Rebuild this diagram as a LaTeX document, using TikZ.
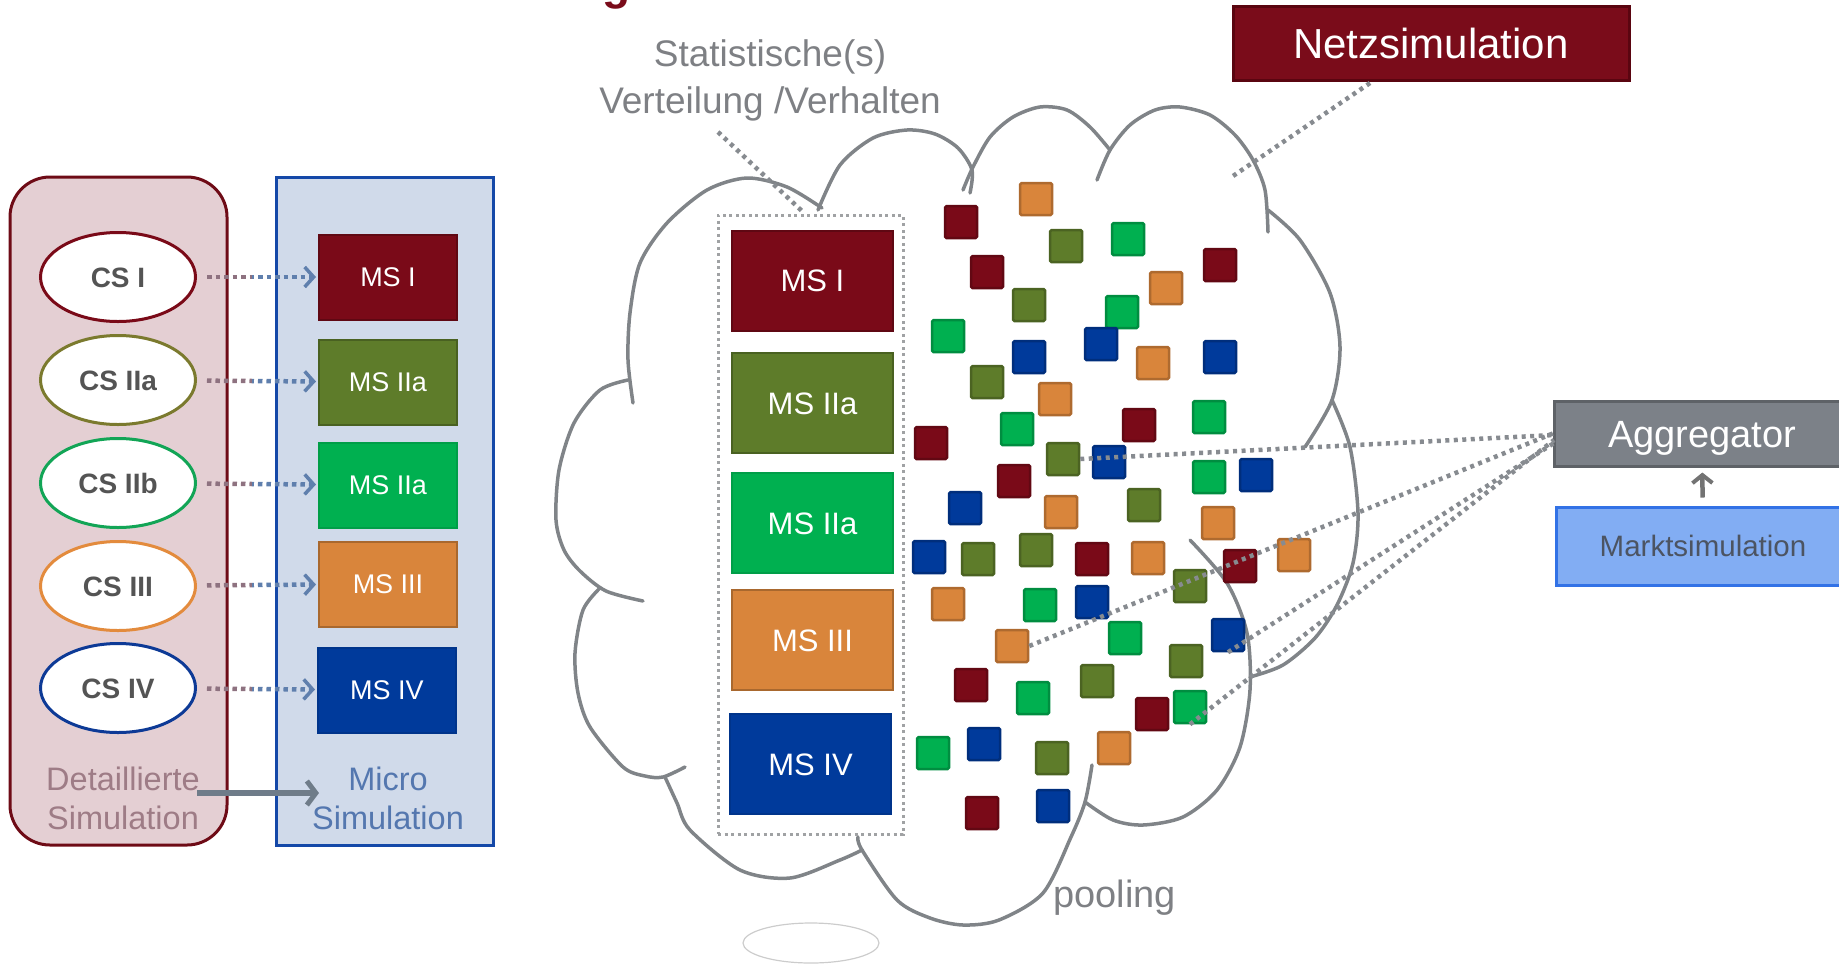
\documentclass[tikz,border=0pt]{standalone}
\usepackage{fontspec}
\setmainfont{Liberation Sans}
\usetikzlibrary{shapes.geometric,arrows.meta}
\newcommand\myfs[1]{\fontsize{#1pt}{#1pt}\selectfont}
\definecolor{DR}{HTML}{7A0A18}
\definecolor{OR}{HTML}{D9853B}
\definecolor{OL}{HTML}{5E7C2A}
\definecolor{GR}{HTML}{00B050}
\definecolor{BL}{HTML}{003A9B}
\definecolor{redPanelF}{HTML}{E4CFD3}
\definecolor{redPanelD}{HTML}{6E0B16}
\definecolor{bluePanelF}{HTML}{D0DAEA}
\definecolor{bluePanelD}{HTML}{1448A8}
\definecolor{detText}{HTML}{9E7C86}
\definecolor{microText}{HTML}{5477AF}
\definecolor{csGray}{HTML}{545454}
\definecolor{csIIa}{HTML}{7B7A2E}
\definecolor{csIIb}{HTML}{12A556}
\definecolor{csIII}{HTML}{E38B3D}
\definecolor{csIV}{HTML}{0D3A96}
\definecolor{linkPink}{HTML}{8E7280}
\definecolor{linkBlue}{HTML}{5F7FAD}
\definecolor{arrGray}{HTML}{6F7C89}
\definecolor{cloudGray}{HTML}{808488}
\definecolor{dotGray}{HTML}{878B90}
\definecolor{boxDot}{HTML}{A0A2A4}
\definecolor{statGray}{HTML}{7E8084}
\definecolor{netFill}{HTML}{7A0C1A}
\definecolor{netDraw}{HTML}{5A0510}
\definecolor{aggFill}{HTML}{7C8188}
\definecolor{aggDraw}{HTML}{5E6267}
\definecolor{mktFill}{HTML}{82ADF3}
\definecolor{mktDraw}{HTML}{3272E6}
\definecolor{mktText}{HTML}{4C5462}
\begin{document}
\begin{tikzpicture}[x=1pt,y=-1pt,
  panelbox/.style={rectangle, line width=3pt, inner sep=0pt},
  csell/.style={ellipse, draw, fill=white, line width=3pt, minimum width=155pt, minimum height=89pt, inner sep=0pt, text=csGray, font=\bfseries\myfs{28}, text height=20pt, text depth=0pt},
  msbox/.style={rectangle, draw, line width=2pt, minimum width=138pt, minimum height=85pt, inner sep=0pt, text=white, font=\myfs{27}, text height=19pt, text depth=0pt},
  cmbox/.style={msbox, minimum width=161pt, minimum height=100pt, font=\myfs{31}, text height=22pt},
  sq/.style={rectangle, draw, line width=2.5pt, minimum size=32pt, inner sep=0pt, rounded corners=1.5pt},
  cslink/.style={line width=4.5pt, dash pattern=on 4.5pt off 4pt, -{Straight Barb[length=9pt,width=20pt,line width=3.5pt]}, shorten <=10pt, shorten >=2pt},
  dotline/.style={draw=dotGray, line width=4.5pt, dash pattern=on 4pt off 4.5pt},
  cloudline/.style={draw=cloudGray, line width=3.5pt, line cap=round},
  lbl/.style={anchor=base, inner sep=0pt}
]
\useasboundingbox (0,0) rectangle (1839,970);

% title fragment
\node[lbl, text=netFill, font=\bfseries\myfs{46}] (gfrag) at (617,-1) {g};

% ---------- left panels ----------
\node[panelbox, draw=redPanelD, fill=redPanelF, rounded corners=40pt, minimum width=217pt, minimum height=668pt] (pnlL) at (118.5,511) {};
\node[panelbox, draw=bluePanelD, fill=bluePanelF, minimum width=217pt, minimum height=668pt] (pnlR) at (384.5,511) {};

\node[csell, draw=DR] (cs1) at (118,277) {CS I};
\node[csell, draw=csIIa] (cs2) at (118,380) {CS IIa};
\node[csell, draw=csIIb] (cs3) at (118,483) {CS IIb};
\node[csell, draw=csIII] (cs4) at (118,586) {CS III};
\node[csell, draw=csIV] (cs5) at (118,688) {CS IV};

\node[msbox, fill=DR, draw=DR!78!black] (ms1) at (388,277) {MS I};
\node[msbox, fill=OL, draw=OL!78!black] (ms2) at (388,382) {MS IIa};
\node[msbox, fill=GR, draw=GR!90!black] (ms3) at (388,485) {MS IIa};
\node[msbox, fill=OR, draw=OR!78!black] (ms4) at (388,584) {MS III};
\node[msbox, fill=BL, draw=BL!90!black] (ms5) at (387,690) {MS IV};

\begin{scope}
  \clip (0,0) rectangle (252,970);
  \foreach \i in {1,...,5} \draw[cslink, draw=linkPink] (cs\i) -- (ms\i);
\end{scope}
\begin{scope}
  \clip (252,0) rectangle (520,970);
  \foreach \i in {1,...,5} \draw[cslink, draw=linkBlue] (cs\i) -- (ms\i);
\end{scope}

\node[lbl, text=detText, font=\myfs{32.5}] (det1) at (123,790) {Detaillierte};
\node[lbl, text=detText, font=\myfs{32.5}] (det2) at (123,829) {Simulation};
\node[lbl, text=microText, font=\myfs{32.5}] (mic1) at (388,790) {Micro};
\node[lbl, text=microText, font=\myfs{32.5}] (mic2) at (388,829) {Simulation};
\coordinate (dA) at (197,793);
\coordinate (dB) at (319,793);
\draw[line width=5.5pt, draw=arrGray, -{Straight Barb[length=9pt,width=24pt,line width=5pt]}] (dA) -- (dB);

% ---------- cloud ----------
\draw[cloudline] plot[smooth] coordinates {(628,380) (600,390) (574,423) (559,470) (556,520) (564,550) (580,571) (606,591) (643,601)};
\draw[cloudline] plot[smooth] coordinates {(600,588) (583,610) (575,653) (578,693) (590,727) (623,767) (645,776) (663,777) (685,767)};
\draw[cloudline] plot[smooth] coordinates {(665,777) (677,803) (690,830) (740,870) (790,878) (840,860) (862,850)};
\draw[cloudline] plot[smooth] coordinates {(858,837) (862,850) (897,900) (930,918) (963,925) (999,920) (1043,893) (1071,837) (1085,802) (1092,765)};
\draw[cloudline] plot[smooth] coordinates {(1085,802) (1113,820) (1143,825) (1183,817) (1217,790) (1240,747) (1250,690) (1247,633) (1227,583) (1190,540)};
\draw[cloudline] plot[smooth] coordinates {(1332,400) (1350,447) (1358,513) (1353,563) (1337,605) (1315,638) (1283,665) (1250,677)};
\draw[cloudline] plot[smooth] coordinates {(1268,210) (1300,240) (1330,293) (1340,347) (1332,400) (1305,447)};
\draw[cloudline] plot[smooth] coordinates {(1097,180) (1110,150) (1130,125) (1155,110) (1180,107) (1210,115) (1235,135) (1253,160) (1265,190) (1268,232)};
\draw[cloudline] plot[smooth] coordinates {(963,190) (973,167) (990,137) (1013,117) (1040,107) (1067,110) (1090,127) (1110,150)};
\draw[cloudline] plot[smooth] coordinates {(818,210) (840,165) (873,138) (907,130) (935,134) (958,148) (972,170) (970,193)};
\draw[cloudline] plot[smooth] coordinates {(822,208) (787,187) (747,178) (707,190) (667,223) (640,263) (630,313) (628,360) (633,403)};
\node[ellipse, draw=gray!40, line width=1.2pt, minimum width=136pt, minimum height=40pt] (bubble) at (811,943) {};

% statistic box
\node[rectangle, draw=boxDot, line width=3pt, dash pattern=on 3pt off 3.5pt, minimum width=185pt, minimum height=619pt, inner sep=0pt] (statbox) at (810.5,524.5) {};
\node[cmbox, fill=DR, draw=DR!78!black] (cm1) at (812.5,280.5) {MS I};
\node[cmbox, fill=OL, draw=OL!78!black] (cm2) at (812.5,403) {MS IIa};
\node[cmbox, fill=GR, draw=GR!90!black] (cm3) at (812.5,523) {MS IIa};
\node[cmbox, fill=OR, draw=OR!78!black] (cm4) at (812.5,640) {MS III};
\node[cmbox, fill=BL, draw=BL!90!black] (cm5) at (810.5,764) {MS IV};

\node[lbl, text=statGray, font=\myfs{37}] (stat1) at (770,66) {Statistische(s)};
\node[lbl, text=statGray, font=\myfs{37}] (stat2) at (770,113) {Verteilung /Verhalten};
\coordinate (stA) at (718,132);
\coordinate (stB) at (803,212);
\draw[dotline] (stA) -- (stB);

\node[anchor=base west, inner sep=0pt, text=statGray, font=\myfs{38}] (pool) at (1053,907) {pooling};

% squares
\foreach \i/\x/\y/\c in {
 1/961/222/DR, 2/1036/199/OR, 3/1066/246/OL, 4/1128/239/GR, 5/987/272/DR,
 6/1166/288/OR, 7/1220/265/DR, 8/1029/305/OL, 9/1122/312/GR, 10/948/336/GR,
 11/1029/357/BL, 12/1101/344/BL, 13/1153/363/OR, 14/1220/357/BL, 15/987/382/OL,
 16/1055/399/OR, 17/1017/429/GR, 18/1139/425/DR, 19/1209/417/GR, 20/931/443/DR,
 21/1063/459/OL, 22/1109/462/BL, 23/1209/477/GR, 24/1256/475/BL, 25/1014/481/DR,
 26/965/508/BL, 27/1061/512/OR, 28/1144/505/OL, 29/1218/523/OR, 30/929/557/BL,
 31/978/559/OL, 32/1036/550/OL, 33/1092/559/DR, 34/1148/558/OR, 35/1240/566/DR,
 36/1294/555/OR, 37/948/604/OR, 38/1040/605/GR, 39/1092/602/BL, 40/1190/586/OL,
 41/1012/646/OR, 42/1125/638/GR, 43/1228/635/BL, 44/1186/661/OL, 45/971/685/DR,
 46/1033/698/GR, 47/1097/681/OL, 48/1152/714/DR, 49/1190/707/GR, 50/933/753/GR,
 51/984/744/BL, 52/1052/758/OL, 53/1114/748/OR, 54/982/813/DR, 55/1053/806/BL}
 { \node[sq, fill=\c, draw=\c!80!black] (s\i) at (\x,\y) {}; }

% right side boxes
\node[rectangle, fill=netFill, draw=netDraw, line width=3pt, minimum width=396pt, minimum height=74pt, inner sep=0pt, text=white, font=\myfs{42}, text height=30pt, text depth=0pt] (net) at (1431,43) {Netzsimulation};
\node[rectangle, fill=aggFill, draw=aggDraw, line width=3pt, minimum width=296pt, minimum height=65pt, inner sep=0pt, text=white, font=\myfs{38}, text height=27pt, text depth=0pt] (agg) at (1702,433.5) {Aggregator};
\node[rectangle, fill=mktFill, draw=mktDraw, line width=3pt, minimum width=294pt, minimum height=78pt, inner sep=0pt, text=mktText, font=\myfs{29.5}, text height=21pt, text depth=0pt] (mkt) at (1703,546) {Marktsimulation};
\draw[line width=4.5pt, draw=gray!90!black, -{Straight Barb[length=8pt,width=20pt,line width=4pt]}, shorten <=8pt, shorten >=5pt] (mkt) -- (agg);

\coordinate (nA) at (1370,83);
\coordinate (nB) at (1233,176);
\draw[dotline] (nA) -- (nB);

\coordinate (ag1) at (1554,435);
\coordinate (ag2) at (1554,433);
\coordinate (ag3) at (1554,443);
\coordinate (ag4) at (1554,440);
\draw[dotline] (s21.east) -- (ag1);
\draw[dotline] (s41.east) -- (ag2);
\draw[dotline] (s43.south) -- (ag3);
\draw[dotline] (s49.south) -- (ag4);
\end{tikzpicture}
\end{document}
